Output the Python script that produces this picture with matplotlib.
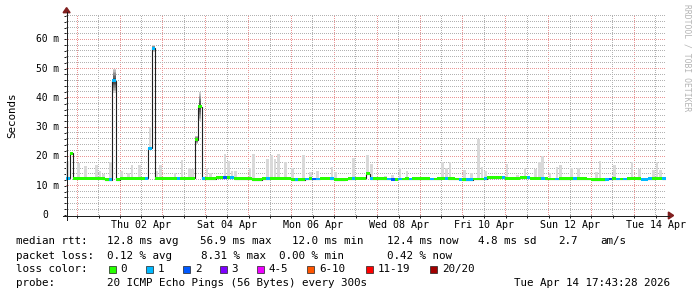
import matplotlib
matplotlib.use('Agg')
import matplotlib.pyplot as plt
import matplotlib.dates as mdates
import matplotlib.transforms as mtransforms
from matplotlib.patches import Rectangle, Polygon
from matplotlib.lines import Line2D
from datetime import datetime, timedelta
import numpy as np

plt.rcParams['font.family'] = ['DejaVu Sans Mono']

W, H, DPI = 697, 297, 100

# time range of the graph, one sample every 2 hours
start = datetime(2026, 3, 31, 17, 43, 28)
end = datetime(2026, 4, 14, 17, 43, 28)
step = timedelta(hours=2)

# median round trip time per sample [ms] (12 samples per row = 1 day)
median_ms = [
    12.6, 21.0, 12.5, 12.5, 12.5, 12.5, 12.5, 12.5, 12.5, 12.5, 12.4, 12.1,
    12.0, 45.9, 12.0, 12.5, 12.5, 12.5, 12.5, 12.5, 12.5, 12.5, 12.5, 22.8,
    56.9, 12.5, 12.5, 12.5, 12.5, 12.5, 12.5, 12.5, 12.5, 12.5, 12.5, 12.5,
    25.7, 37.0, 12.4, 12.4, 12.4, 12.4, 12.7, 12.8, 12.8, 12.7, 12.7, 12.4,
    12.4, 12.4, 12.4, 12.4, 12.1, 12.0, 12.1, 12.4, 12.4, 12.6, 12.6, 12.6,
    12.6, 12.6, 12.6, 12.1, 12.0, 12.0, 12.1, 12.3, 12.4, 12.3, 12.3, 12.5,
    12.5, 12.5, 12.4, 12.1, 12.1, 12.1, 12.2, 12.4, 12.4, 12.5, 12.5, 12.5,
    14.1, 12.4, 12.4, 12.4, 12.4, 12.4, 12.3, 12.2, 12.2, 12.3, 12.3, 12.4,
    12.3, 12.4, 12.4, 12.4, 12.4, 12.4, 12.3, 12.3, 12.4, 12.5, 12.5, 12.4,
    12.4, 12.3, 12.2, 12.1, 12.0, 12.1, 12.3, 12.3, 12.3, 12.4, 12.8, 12.8,
    12.8, 12.8, 12.7, 12.5, 12.5, 12.5, 12.6, 12.8, 12.8, 12.8, 12.6, 12.5,
    12.5, 12.5, 12.4, 12.3, 12.3, 12.3, 12.4, 12.4, 12.4, 12.4, 12.4, 12.4,
    12.4, 12.4, 12.3, 12.1, 12.0, 12.0, 12.0, 12.2, 12.3, 12.4, 12.3, 12.3,
    12.3, 12.4, 12.5, 12.5, 12.4, 12.2, 12.2, 12.4, 12.4, 12.5, 12.5, 12.4,
]

# lost pings (of 20) per sample
loss_pings = [
    1, 0, 0, 0, 0, 0, 0, 0, 0, 0, 0, 0,
    1, 1, 0, 0, 0, 0, 0, 0, 0, 0, 1, 1,
    1, 0, 0, 0, 0, 0, 0, 1, 0, 0, 0, 0,
    0, 0, 1, 0, 0, 0, 0, 0, 2, 0, 1, 0,
    0, 0, 0, 0, 0, 0, 0, 0, 1, 0, 0, 0,
    0, 0, 0, 0, 1, 0, 0, 1, 0, 2, 1, 0,
    0, 0, 1, 0, 0, 0, 0, 0, 1, 0, 0, 0,
    0, 1, 0, 0, 0, 0, 1, 2, 0, 1, 0, 0,
    1, 0, 0, 0, 0, 0, 1, 0, 0, 0, 1, 0,
    0, 0, 1, 0, 1, 1, 0, 0, 0, 1, 0, 0,
    0, 0, 1, 0, 0, 0, 0, 0, 0, 1, 0, 0,
    0, 1, 0, 0, 0, 1, 0, 0, 0, 0, 1, 0,
    0, 0, 0, 0, 0, 0, 0, 1, 2, 0, 1, 0,
    1, 0, 0, 0, 0, 1, 1, 1, 0, 0, 0, 1,
]

# highest ping of each sample (smoke top) [ms], 0 = nothing above the median
smoke_top_ms = [
    18.5, 0, 0, 17.7, 0, 16.6, 0, 0, 16.9, 14.9, 14.1, 0,
    18.1, 50.0, 0, 15.1, 0, 14.5, 17.1, 0, 16.9, 0, 0, 30.0,
    58.0, 15.1, 17.1, 0, 0, 0, 14.5, 0, 18.9, 0, 16.0, 15.7,
    27.0, 42.0, 0, 16.2, 14.3, 0, 0, 0, 20.9, 18.5, 15.1, 15.1,
    0, 0, 0, 16.0, 20.8, 0, 0, 0, 19.2, 20.4, 19.2, 20.9,
    0, 18.1, 0, 16.0, 0, 0, 20.6, 0, 14.6, 0, 15.0, 0,
    0, 0, 16.4, 14.6, 0, 0, 0, 0, 19.4, 0, 0, 0,
    20.6, 17.5, 0, 0, 0, 13.3, 0, 13.8, 0, 16.1, 0, 14.9,
    0, 0, 0, 0, 0, 0, 0, 0, 0, 18.1, 15.9, 18.1,
    0, 0, 0, 15.2, 0, 14.5, 0, 26.0, 16.5, 15.0, 0, 0,
    0, 0, 0, 17.3, 0, 0, 13.7, 0, 16.1, 0, 0, 15.6,
    18.2, 20.0, 0, 14.4, 0, 16.5, 17.0, 0, 0, 16.1, 0, 15.9,
    0, 0, 0, 0, 14.8, 18.6, 0, 0, 0, 17.0, 0, 0,
    0, 0, 18.1, 0, 15.6, 0, 0, 0, 15.2, 18.1, 15.2, 0,
]

loss_labels = ['0', '1', '2', '3', '4-5', '6-10', '11-19', '20/20']
loss_upper = [0, 1, 2, 3, 5, 10, 19, 20]
loss_colors = ['#26ff00', '#00b8ff', '#0059ff', '#7e00ff',
               '#ee00ff', '#ff5500', '#ff0000', '#a10000']

rtt_stats = ['median rtt:', '12.8 ms avg', '56.9 ms max', '12.0 ms min',
             '12.4 ms now', '4.8 ms sd', '2.7', 'am/s']
loss_stats = ['packet loss:', '0.12 % avg', '8.31 % max', '0.00 % min', '0.42 % now']
probe_stats = ['probe:', '20 ICMP Echo Pings (56 Bytes) every 300s', 'Tue Apr 14 17:43:28 2026']

ymax = 56.9 * 1.2


def fx(px):
    return px / W


def fy(py):
    return 1 - py / H


# plot area in pixels: x 66..666, y 15..215
PL, PT, PW, PH = 66, 15, 600, 200

fig = plt.figure(figsize=(W / DPI, H / DPI), dpi=DPI)
fig.patch.set_facecolor('white')
ax = fig.add_axes([fx(PL), fy(PT + PH), PW / W, PH / H])
ax.set_facecolor('white')

n = len(median_ms)
edges = mdates.date2num([start + i * step for i in range(n + 1)])
centers = (edges[:-1] + edges[1:]) / 2
width = edges[1] - edges[0]
med = np.array(median_ms)
top = np.array(smoke_top_ms)
x0, x1 = mdates.date2num(start), mdates.date2num(end)

# dotted grid (1px on / 1px off), drawn as a pixel image behind the data
minor_c = (0.70, 0.70, 0.70, 1.0)
major_c = (0.92, 0.59, 0.59, 1.0)
grid_img = np.zeros((PH, PW, 4))
day0 = datetime(2026, 4, 1)
midnights = [day0 + timedelta(days=d) for d in range(14)]
noons = [day0 + timedelta(days=d, hours=12) for d in range(14)]
for d, c in [(d, minor_c) for d in noons] + [(d, major_c) for d in midnights]:
    col = int(round((mdates.date2num(d) - x0) / (x1 - x0) * PW - 0.5))
    grid_img[1::2, col] = c
for v in np.arange(2, ymax, 2):
    row = int(round((1 - v / ymax) * PH - 0.5))
    grid_img[row, ::2] = major_c if v % 10 == 0 else minor_c
ax.imshow(grid_img, extent=(x0, x1, 0, ymax), aspect='auto',
          interpolation='nearest', zorder=1)

# smoke
has = top > med
light = has & (med < 24)
ax.bar(centers[light], top[light] - med[light], bottom=med[light], width=width * 0.75,
       color='#d9d9d9', lw=0, zorder=2)
dark = has & (med >= 24)
N = 8
for k in range(N):
    frac = (N - k) / N
    h = (top[dark] - med[dark]) * frac
    shade = 0.82 - 0.6 * k / (N - 1)
    ax.bar(centers[dark], 2 * h, bottom=med[dark] - h, width=width * 0.75,
           color=(shade, shade, shade), lw=0, zorder=2)

# median line + loss coloured band
ax.stairs(med, edges, baseline=None, color='#202020', lw=0.8, zorder=3)
band_colors = [loss_colors[next(j for j, u in enumerate(loss_upper) if l <= u)]
               for l in loss_pings]
ax.bar(centers, 1.0, bottom=med - 0.5, width=width, color=band_colors, lw=0, zorder=4)

ax.set_xlim(x0, x1)
ax.set_ylim(0, ymax)
for s in ax.spines.values():
    s.set_visible(False)

label_days = [day0 + timedelta(days=1 + 2 * k, hours=12) for k in range(7)]
ax.set_xticks(mdates.date2num(label_days), [d.strftime('%a %d %b') for d in label_days])
ax.set_xticks(mdates.date2num(sorted(midnights + noons)), minor=True)
ax.set_yticks(np.arange(0, 61, 10))
ax.set_yticks(np.arange(0, ymax, 2), minor=True)
ax.tick_params(axis='x', which='both', direction='out', length=1.8, width=0.72,
               color='#1f1f1f', labelsize=7.2, pad=1.5)
ax.tick_params(axis='y', which='both', direction='out', length=1.6, width=0.72,
               color='#1f1f1f', labelleft=False)

# y tick labels, right aligned on the unit column
ytr = mtransforms.blended_transform_factory(fig.transFigure, ax.transData)
adv = 0.602 * 6.9 * DPI / 72
for v in range(0, 61, 10):
    if v:
        ax.text(fx(59.2), v, f'{v} m', transform=ytr, ha='right', va='center', fontsize=6.9)
    else:
        ax.text(fx(59.2 - 2 * adv), v, '0', transform=ytr, ha='right', va='center', fontsize=6.9)

# axes with arrows
axis_c = '#1f1f1f'
arrow_c = (0.5, 0.12, 0.12)
fig.add_artist(Line2D([fx(63), fx(669)], [fy(215.5), fy(215.5)], color=axis_c, lw=0.72))
fig.add_artist(Line2D([fx(66.5), fx(66.5)], [fy(219.5), fy(12)], color=axis_c, lw=0.72))
fig.add_artist(Polygon([(fx(63.1), fy(12.7)), (fx(70.1), fy(12.7)), (fx(66.6), fy(7.6))],
                       closed=True, color=arrow_c, transform=fig.transFigure))
fig.add_artist(Polygon([(fx(668.4), fy(212)), (fx(668.4), fy(219)), (fx(673.6), fy(215.5))],
                       closed=True, color=arrow_c, transform=fig.transFigure))

fig.text(fx(12.7), fy(115), 'Seconds', rotation=90, ha='center', va='center', fontsize=7.8)
fig.text(fx(687), fy(4), 'RRDTOOL / TOBI OETIKER', rotation=270, ha='center', va='top',
         fontsize=5.8, color='#b4b4b4')

# legend
lfs = 7.8
rtt_x = [16, 107.3, 200, 292, 387.3, 478.3, 558.3, 600]
for s, x in zip(rtt_stats, rtt_x):
    fig.text(fx(x), fy(241), s, ha='left', va='center', fontsize=lfs)
loss_x = [16, 107.3, 201.3, 279.3, 387.3]
for s, x in zip(loss_stats, loss_x):
    fig.text(fx(x), fy(255.7), s, ha='left', va='center', fontsize=lfs)
fig.text(fx(16), fy(269), 'loss color:', ha='left', va='center', fontsize=lfs)
box_x = [108.7, 146, 182.7, 219.7, 256.7, 307.3, 365.7, 430]
for lab, c, x in zip(loss_labels, loss_colors, box_x):
    fig.add_artist(Rectangle((fx(x), fy(272.5)), 7 / W, 7 / H, facecolor=c,
                             edgecolor='#202020', lw=0.5, transform=fig.transFigure))
    fig.text(fx(x + 12), fy(269), lab, ha='left', va='center', fontsize=lfs)
probe_x = [16, 107.3, 514]
for s, x in zip(probe_stats, probe_x):
    fig.text(fx(x), fy(283), s, ha='left', va='center', fontsize=lfs)

fig.savefig('out.png', dpi=DPI, facecolor='white')
